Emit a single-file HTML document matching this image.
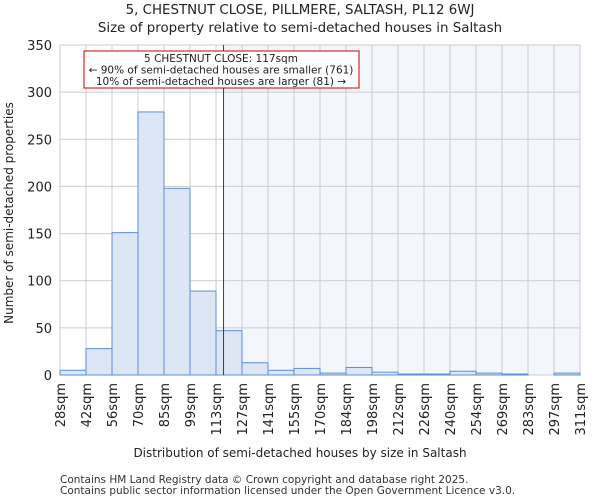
<!DOCTYPE html>
<html><head><meta charset="utf-8"><style>
body{margin:0;background:#fff;font-family:"DejaVu Sans","Liberation Sans",sans-serif}
</style></head><body>
<svg id="c" width="600" height="500" xmlns="http://www.w3.org/2000/svg" font-family="DejaVu Sans, Liberation Sans, sans-serif">
<text x="300" y="14" text-anchor="middle" font-size="13.4" fill="#222">5, CHESTNUT CLOSE, PILLMERE, SALTASH, PL12 6WJ</text>
<text x="300" y="32" text-anchor="middle" font-size="13.4" fill="#222">Size of property relative to semi-detached houses in Saltash</text>
<g id="plot"></g>
<text x="300" y="457" text-anchor="middle" font-size="12" fill="#222">Distribution of semi-detached houses by size in Saltash</text>
<text transform="translate(13,213) rotate(-90)" text-anchor="middle" font-size="12" fill="#222">Number of semi-detached properties</text>
<text x="60" y="483" font-size="10.5" fill="#333">Contains HM Land Registry data © Crown copyright and database right 2025.</text>
<text x="60" y="494" font-size="10.5" fill="#333">Contains public sector information licensed under the Open Government Licence v3.0.</text>
</svg>
<script>
const binLabels=["28sqm","42sqm","56sqm","70sqm","85sqm","99sqm","113sqm","127sqm","141sqm","155sqm","170sqm","184sqm","198sqm","212sqm","226sqm","240sqm","254sqm","269sqm","283sqm","297sqm","311sqm"];
const counts=[5,28,151,279,198,89,47,13,5,7,2,8,3,1,1,4,2,1,0,2];
const yTicks=[0,50,100,150,200,250,300,350];
const markerBin=6.29;
const annotationLines=["5 CHESTNUT CLOSE: 117sqm","← 90% of semi-detached houses are smaller (761)","10% of semi-detached houses are larger (81) →"];
const NS="http://www.w3.org/2000/svg";
const L=60,R=580,T=45,B=375,yMax=350;
const nb=counts.length;
const xs=i=>L+(R-L)*i/nb;
const ys=v=>B-(B-T)*v/yMax;
const g=document.getElementById('plot');
function mk(t,a){const e=document.createElementNS(NS,t);for(const k in a)e.setAttribute(k,a[k]);g.appendChild(e);return e;}
let e;
const mx=xs(markerBin);
e=mk('rect',{x:mx,y:T,width:R-mx,height:B-T,fill:'#f3f6fd'});


for(let i=0;i<=nb;i++){e=mk('line',{x1:xs(i),x2:xs(i),y1:T,y2:B,stroke:'#cccccc','stroke-width':1});

}
yTicks.forEach(v=>{e=mk('line',{x1:L,x2:R,y1:ys(v),y2:ys(v),stroke:'#cccccc','stroke-width':1});


e=mk('text',{x:L-8,y:ys(v)+5,'text-anchor':'end','font-size':13,fill:'#222'});e.textContent=v;

});
counts.forEach((c,i)=>{e=mk('rect',{x:xs(i),y:ys(c),width:xs(i+1)-xs(i),height:B-ys(c),fill:'#dce6f4',stroke:'#5b8fd6','stroke-width':1});

});
binLabels.forEach((l,i)=>{e=mk('text',{transform:`translate(${xs(i)+5},${B+8}) rotate(-90)`,'text-anchor':'end','font-size':13,fill:'#222'});e.textContent=l;

});
e=mk('line',{x1:mx,x2:mx,y1:T,y2:B,stroke:'#cc0000','stroke-width':1});


e=mk('rect',{x:84,y:51,width:275,height:37,fill:'#fff',stroke:'#cc0000','stroke-width':1});


annotationLines.forEach((t,i)=>{e=mk('text',{x:221,y:62+i*11.5,'text-anchor':'middle','font-size':10.5,fill:'#222'});e.textContent=t;

});
</script>
</body></html>
